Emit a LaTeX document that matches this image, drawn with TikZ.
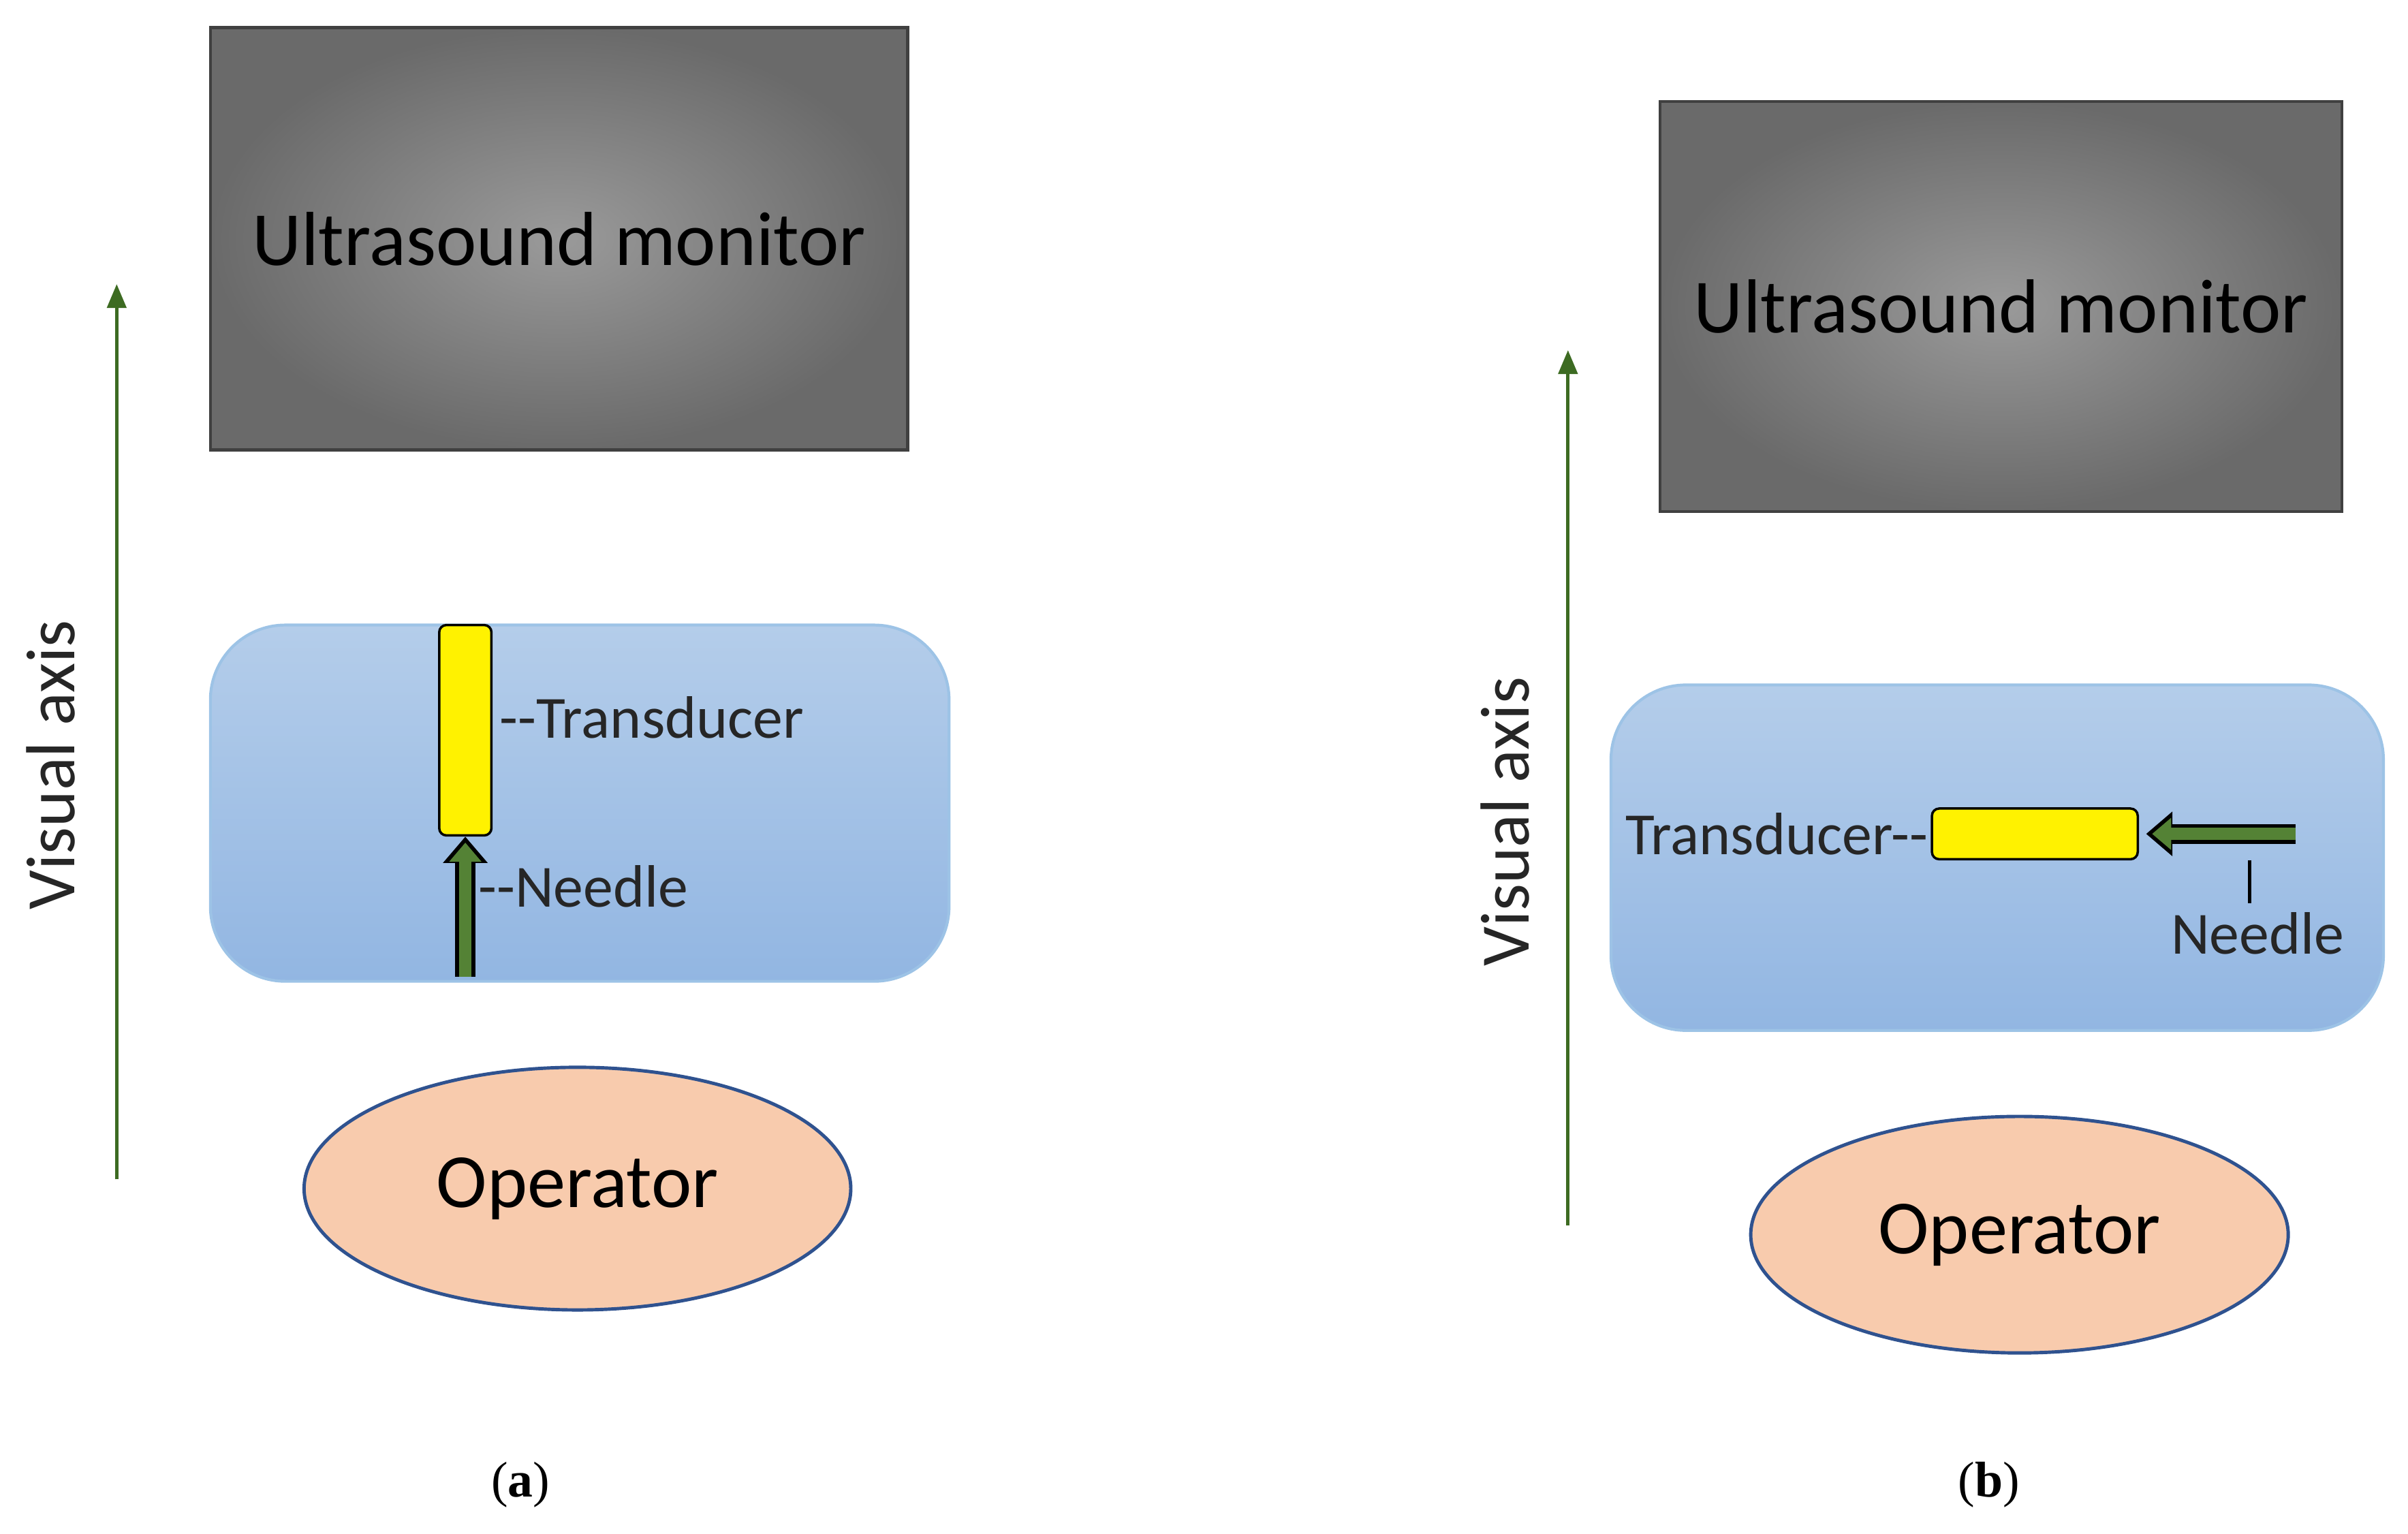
\documentclass[tikz,border=0pt]{standalone}
\usepackage{fontspec}
\setmainfont{Carlito}
\newfontfamily\capfont{Liberation Serif}
\usetikzlibrary{arrows.meta,shapes.geometric,positioning}
\definecolor{axisgreen}{HTML}{3D6B22}
\definecolor{needlegreen}{HTML}{548235}
\definecolor{peach}{HTML}{F8CBAD}
\definecolor{rimblue}{HTML}{2F528F}
\definecolor{padtop}{HTML}{B4CDEA}
\definecolor{padbot}{HTML}{92B6E2}
\definecolor{padrim}{HTML}{9DC3E6}
\definecolor{monin}{HTML}{9A9A9A}
\definecolor{monout}{HTML}{6A6A6A}
\tikzset{
  monitor/.style={draw=black!75, line width=1.2pt, inner color=monin, outer color=monout,
    font=\fontsize{32}{36}\selectfont},
  pad/.style={draw=padrim, line width=1.2pt, rounded corners=1.1cm, top color=padtop, bottom color=padbot},
  probe/.style={draw=black, fill=yellow, line width=1pt, rounded corners=3pt},
  operator/.style={ellipse, draw=rimblue, line width=1.4pt, fill=peach, font=\fontsize{32}{36}\selectfont},
  axis/.style={draw=axisgreen, line width=1.4pt, -{Triangle[length=10pt,width=8pt]}},
  label/.style={font=\fontsize{25}{29}\selectfont, text=black!85},
  needle out/.style={line width=13*0.022545cm, -{Triangle[length=11pt,width=18pt]}},
  needle in/.style={needlegreen, line width=8*0.022545cm, -{Triangle[length=8pt,width=13pt]}, shorten >=2.5pt},
  sub/.style={font=\capfont\fontsize{21}{25}\selectfont}
}
\begin{document}
\begin{tikzpicture}[x=0.022545cm, y=-0.022545cm]
  \useasboundingbox (0,0) rectangle (1568,998.5);
  % left panel
  \node[monitor, minimum width=454*0.022545cm, minimum height=275*0.022545cm] (monA) at (364,155.5) {Ultrasound monitor};
  \node[pad, minimum width=481*0.022545cm, minimum height=232*0.022545cm] (padA) at (377.5,523) {};
  \node[probe, minimum width=34*0.022545cm, minimum height=137*0.022545cm] (probeA) at (303,475.5) {};
  \node[operator, minimum width=356*0.022545cm, minimum height=158*0.022545cm] (opA) at (376,774) {Operator};
  \coordinate (axisA0) at (76,768);
  \coordinate (axisA1) at (76,185);
  \coordinate (needleA) at (303,636);
  \draw[axis] (axisA0) -- (axisA1);
  \node[label, rotate=90, font=\fontsize{29}{33}\selectfont] (visA) at (33,498) {Visual axis};
  \draw[needle out] (needleA) -- (probeA.south);
  \draw[needle in] (needleA) -- (probeA.south);
  \node[label, anchor=west] (transA) at (320,467) {{-}{-}Transducer};
  \node[label, anchor=west] (needA) at (306,577) {{-}{-}Needle};
  \node[sub] (capA) at (339,967) {(\textbf{a})};
  % right panel
  \node[monitor, minimum width=444*0.022545cm, minimum height=267*0.022545cm] (monB) at (1303,199.5) {Ultrasound monitor};
  \node[pad, minimum width=503*0.022545cm, minimum height=225*0.022545cm] (padB) at (1300.5,558.5) {};
  \node[probe, minimum width=134*0.022545cm, minimum height=33*0.022545cm] (probeB) at (1325,543) {};
  \node[operator, minimum width=350*0.022545cm, minimum height=154*0.022545cm] (opB) at (1315,804) {Operator};
  \coordinate (axisB0) at (1021,798);
  \coordinate (axisB1) at (1021,228);
  \coordinate (needleB) at (1495,543);
  \coordinate (tickB0) at (1465,560);
  \coordinate (tickB1) at (1465,588);
  \draw[axis] (axisB0) -- (axisB1);
  \node[label, rotate=90, font=\fontsize{29}{33}\selectfont] (visB) at (980,535) {Visual axis};
  \draw[needle out] (needleB) -- ([xshift=3pt]probeB.east);
  \draw[needle in] (needleB) -- ([xshift=3pt]probeB.east);
  \draw[line width=1.4pt] (tickB0) -- (tickB1);
  \node[label, anchor=east, inner sep=1pt] (transB) at (probeB.west) {Transducer{-}{-}};
  \node[label] (needB) at (1470,608) {Needle};
  \node[sub] (capB) at (1295,967) {(\textbf{b})};
\end{tikzpicture}
\end{document}
